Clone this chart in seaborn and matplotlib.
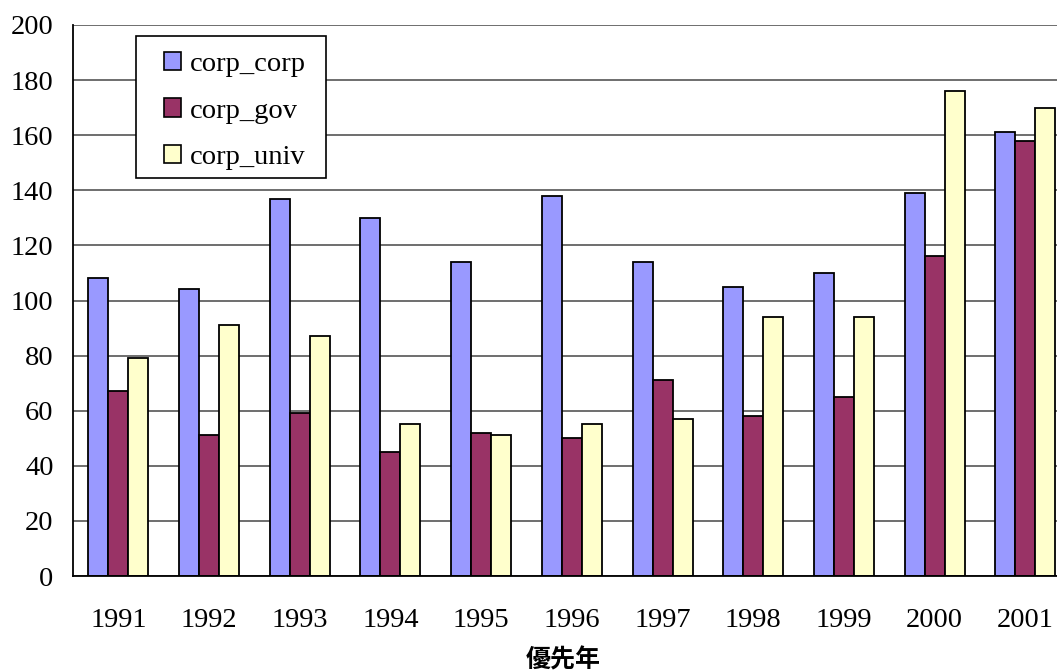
import numpy as np
import pandas as pd
import matplotlib
matplotlib.use("Agg")
import matplotlib.pyplot as plt
from matplotlib.patches import Rectangle
from matplotlib.ticker import FixedLocator
import seaborn as sns

# Patent counts by priority year for each co-application type
years = ["1991", "1992", "1993", "1994", "1995", "1996",
         "1997", "1998", "1999", "2000", "2001"]
corp_corp = [108, 104, 137, 130, 114, 138, 114, 105, 110, 139, 161]
corp_gov = [67, 51, 59, 45, 52, 50, 71, 58, 65, 116, 158]
corp_univ = [79, 91, 87, 55, 51, 55, 57, 94, 94, 176, 170]
series_names = ["corp_corp", "corp_gov", "corp_univ"]
series_colors = ["#9999FF", "#993366", "#FFFFCC"]
y_ticks = [0, 20, 40, 60, 80, 100, 120, 140, 160, 180, 200]
x_label = "優先年"

df = pd.DataFrame({
    "year": years * 3,
    "count": corp_corp + corp_gov + corp_univ,
    "series": np.repeat(series_names, len(years)),
})

sns.set_style("white")
plt.rcParams["font.family"] = ["Liberation Serif", "DejaVu Sans"]
for key in ("text.color", "axes.labelcolor", "xtick.color", "ytick.color"):
    plt.rcParams[key] = "black"

W, H = 1057, 672
fig = plt.figure(figsize=(W / 100, H / 100), dpi=100)
ax = fig.add_axes([73 / W, 96 / H, 997.7 / W, 551 / H])

sns.barplot(data=df, x="year", y="count", hue="series", order=years,
            hue_order=series_names, palette=series_colors, saturation=1,
            width=0.662, edgecolor="black", linewidth=1.3, ax=ax)

ax.set_ylim(0, 200)
ax.set_xlim(-0.5, len(years) - 0.5)
ax.set_yticks(y_ticks)
ax.set_axisbelow(True)
ax.yaxis.grid(True, color="#6e6e6e", linewidth=1.4)
ax.xaxis.grid(False)

for side in ("top", "right"):
    ax.spines[side].set_visible(False)
for side in ("left", "bottom"):
    ax.spines[side].set_color("black")
    ax.spines[side].set_linewidth(1.3)

# category labels centred, tick marks on the boundaries between years
ax.tick_params(axis="x", which="major", length=0, labelsize=20.5, pad=23)
ax.xaxis.set_minor_locator(FixedLocator(np.arange(0.5, len(years) - 0.5, 1)))
ax.tick_params(axis="x", which="minor", direction="in", length=8,
               width=1.3, color="black")
ax.tick_params(axis="y", direction="in", length=9, width=1.3,
               color="black", labelsize=20.5, pad=14)

ax.set_xlabel(x_label, family=["Noto Sans CJK JP"], fontweight="bold",
              fontsize=18)
ax.xaxis.set_label_coords((563 - 73) / 997.7, -0.131)
ax.set_ylabel("")

# legend box drawn as its own frame, entries placed inside it
frame = Rectangle((136 / W, 1 - 178 / H), 190 / W, 142 / H,
                  transform=fig.transFigure, facecolor="white",
                  edgecolor="black", linewidth=1.2, zorder=4, clip_on=False)
ax.add_patch(frame)

leg = ax.legend(loc="upper left", bbox_to_anchor=(164 / W, 1 - 52 / H),
                bbox_transform=fig.transFigure,
                borderaxespad=0, borderpad=0, frameon=False, fontsize=20.5,
                handlelength=0.6, handleheight=0.6, handletextpad=0.3,
                labelspacing=0.75, title=None)
leg.set_zorder(5)
for h in leg.legend_handles:
    h.set_edgecolor("black")
    h.set_linewidth(1.2)

fig.savefig("out.png", dpi=100)
